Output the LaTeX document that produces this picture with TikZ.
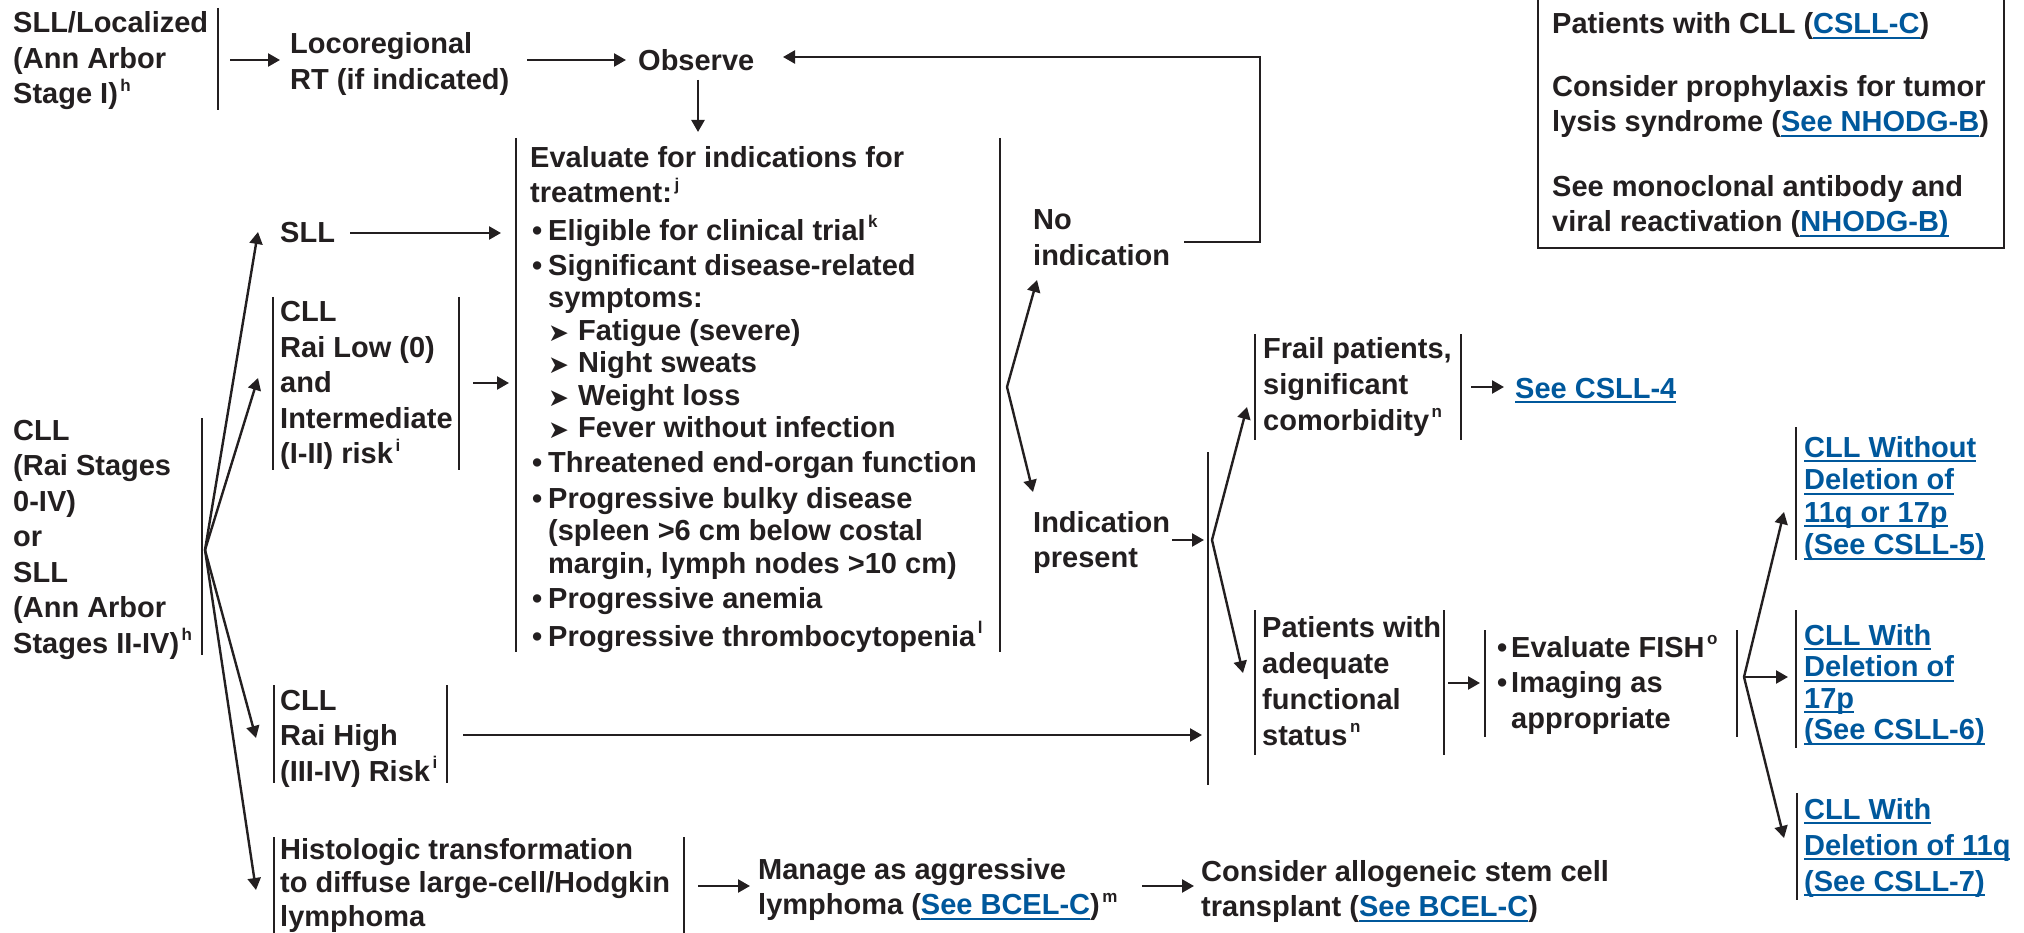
\documentclass[tikz,border=0pt]{standalone}
\usepackage{fontspec}
\setmainfont{Liberation Sans}
\newfontfamily\djv{DejaVu Sans}
\usetikzlibrary{arrows.meta}
\definecolor{ink}{RGB}{35,31,32}
\definecolor{linkblue}{RGB}{0,88,156}
\newcommand\sups[1]{\kern2.5pt\raisebox{12.5pt}{\fontsize{17}{17}\selectfont #1}}
\newcommand\lnk[1]{{\color{linkblue}\setbox0=\hbox{#1}\rlap{\vrule height -3.2pt depth 5pt width \wd0}\box0}}
\newcommand\bul{\makebox[18pt][l]{\kern2pt\textbullet}}
\newcommand\fbul{\makebox[14pt][l]{\textbullet}}
\newcommand\ind{\hspace*{18pt}}
\newcommand\subarr{\makebox[30pt][l]{\raisebox{-1pt}{\djv\fontsize{25}{25}\selectfont ➤}}}
\newcommand\tl[1]{\begin{tabular}[t]{@{}l@{}}#1\end{tabular}}
\tikzset{
  txt/.style={anchor=base west, inner sep=0pt, text=ink,
    font=\bfseries\fontsize{29}{35.5}\selectfont},
  tight/.style={font=\bfseries\fontsize{29}{32.4}\selectfont},
  bar/.style={draw=ink, line width=2.5pt},
  arr/.style={draw=ink, line width=2.4pt, -{Triangle[length=12pt,width=13pt]}},
}
\begin{document}
\begin{tikzpicture}[x=1pt,y=-1pt]
\useasboundingbox (0,0) rectangle (2024,933);

% ---------- top row ----------
\node[txt] (sllloc) at (13,33) {\tl{SLL/Localized\\(Ann Arbor\\Stage I)\sups{h}}};
\draw[bar] (218,8) -- (218,110);
\coordinate (a1s) at (230,60); \coordinate (a1e) at (280,60);
\draw[arr] (a1s) -- (a1e);
\node[txt] (loco) at (290,54) {\tl{Locoregional\\RT (if indicated)}};
\coordinate (a2s) at (527,60); \coordinate (a2e) at (626,60);
\draw[arr] (a2s) -- (a2e);
\node[txt] (obs) at (638,71) {Observe};
\coordinate (a3s) at (698,80); \coordinate (a3e) at (698,132);
\draw[arr] (a3s) -- (a3e);

% ---------- top-right box ----------
\draw[draw=ink, line width=2.2pt] (1538,-5) rectangle (2004,248);
\node[txt] (note) at (1552,34) {\tl{Patients with CLL (\lnk{CSLL-C})\\[27pt]
Consider prophylaxis for tumor\\lysis syndrome (\lnk{See NHODG-B})\\[29pt]
See monoclonal antibody and\\viral reactivation (\lnk{NHODG-B)}}};

% ---------- evaluate box ----------
\draw[bar] (516,138) -- (516,652);
\draw[bar] (1000,138) -- (1000,652);
\node[txt,tight] (eval) at (530,168) {\tl{Evaluate for indications for\\
treatment:\sups{j}\\[3pt]
\bul Eligible for clinical trial\sups{k}\\[3pt]
\bul Significant disease-related\\
\ind symptoms:\\
\ind\subarr Fatigue (severe)\\
\ind\subarr Night sweats\\
\ind\subarr Weight loss\\
\ind\subarr Fever without infection\\[3pt]
\bul Threatened end-organ function\\[3pt]
\bul Progressive bulky disease\\
\ind (spleen >6 cm below costal\\
\ind margin, lymph nodes >10 cm)\\[3pt]
\bul Progressive anemia\\[3pt]
\bul Progressive thrombocytopenia\sups{l}}};

% ---------- no indication / indication ----------
\node[txt] (noind) at (1033,230) {\tl{No\\indication}};
\node[txt] (indp) at (1033,532) {\tl{Indication\\present}};
\coordinate (ef) at (1007,387);
\coordinate (efu) at (1037,280); \coordinate (efd) at (1033,492);
\draw[arr] (ef) -- (efu);
\draw[arr] (ef) -- (efd);
\coordinate (r0) at (1184,242); \coordinate (rc) at (1260,57); \coordinate (rt) at (783,57);
\draw[arr] (r0) -| (rc) -- (rt);

% ---------- left column ----------
\node[txt] (stages) at (13,440) {\tl{CLL\\(Rai Stages\\0-IV)\\or\\SLL\\(Ann Arbor\\Stages II-IV)\sups{h}}};
\draw[bar] (202,418) -- (202,655);
\coordinate (lf) at (205,550);
\coordinate (t1) at (258,232); \coordinate (t2) at (258,378);
\coordinate (t3) at (256,738); \coordinate (t4) at (256,890);
\draw[arr] (lf) -- (t1);
\draw[arr] (lf) -- (t2);
\draw[arr] (lf) -- (t3);
\draw[arr] (lf) -- (t4);

\node[txt] (sll) at (280,243) {SLL};
\coordinate (a4s) at (350,233); \coordinate (a4e) at (501,233);
\draw[arr] (a4s) -- (a4e);

\node[txt] (rlow) at (280,322) {\tl{CLL\\Rai Low (0)\\and\\Intermediate\\(I-II) risk\sups{i}}};
\draw[bar] (273,297) -- (273,470);
\draw[bar] (459,297) -- (459,470);
\coordinate (a5s) at (473,383); \coordinate (a5e) at (509,383);
\draw[arr] (a5s) -- (a5e);

\node[txt] (rhigh) at (280,710) {\tl{CLL\\Rai High\\(III-IV) Risk\sups{i}}};
\draw[bar] (274,685) -- (274,783);
\draw[bar] (447,685) -- (447,783);
\coordinate (a6s) at (463,735); \coordinate (a6e) at (1202,735);
\draw[arr] (a6s) -- (a6e);

\node[txt,font=\bfseries\fontsize{29}{33.5}\selectfont] (histo) at (280,859) {\tl{Histologic transformation\\to diffuse large-cell/Hodgkin\\lymphoma}};
\draw[bar] (274,837) -- (274,945);
\draw[bar] (684,837) -- (684,945);
\coordinate (a7s) at (698,886); \coordinate (a7e) at (750,886);
\draw[arr] (a7s) -- (a7e);
\node[txt] (manage) at (758,879) {\tl{Manage as aggressive\\lymphoma (\lnk{See BCEL-C})\sups{m}}};
\coordinate (a8s) at (1142,886); \coordinate (a8e) at (1194,886);
\draw[arr] (a8s) -- (a8e);
\node[txt] (allo) at (1201,881) {\tl{Consider allogeneic stem cell\\transplant (\lnk{See BCEL-C})}};

% ---------- indication present branch ----------
\draw[bar] (1208,452) -- (1208,785);
\coordinate (a9s) at (1172,540); \coordinate (a9e) at (1204,540);
\draw[arr] (a9s) -- (a9e);
\coordinate (if) at (1212,540);
\coordinate (ifu) at (1247,407); \coordinate (ifd) at (1243,673);
\draw[arr] (if) -- (ifu);
\draw[arr] (if) -- (ifd);

\node[txt] (frail) at (1263,359) {\tl{Frail patients,\\significant\\comorbidity\sups{n}}};
\draw[bar] (1255,334) -- (1255,440);
\draw[bar] (1461,334) -- (1461,440);
\coordinate (a10s) at (1471,387); \coordinate (a10e) at (1504,387);
\draw[arr] (a10s) -- (a10e);
\node[txt] (csll4) at (1515,398) {\lnk{See CSLL-4}};

\node[txt,font=\bfseries\fontsize{29}{36}\selectfont] (adeq) at (1262,637) {\tl{Patients with\\adequate\\functional\\status\sups{n}}};
\draw[bar] (1255,610) -- (1255,755);
\draw[bar] (1444,610) -- (1444,755);
\coordinate (a11s) at (1448,683); \coordinate (a11e) at (1480,683);
\draw[arr] (a11s) -- (a11e);

\node[txt] (fish) at (1497,657) {\tl{\fbul Evaluate FISH\sups{o}\\\fbul Imaging as\\\hspace*{14pt}appropriate}};
\draw[bar] (1485,630) -- (1485,737);
\draw[bar] (1737,630) -- (1737,737);
\coordinate (ff) at (1744,677);
\coordinate (ffu) at (1784,512); \coordinate (ffm) at (1788,677); \coordinate (ffd) at (1784,838);
\draw[arr] (ff) -- (ffu);
\draw[arr] (ff) -- (ffm);
\draw[arr] (ff) -- (ffd);

\node[txt,font=\bfseries\fontsize{29}{32.5}\selectfont] (c5) at (1804,457) {\tl{\lnk{CLL Without}\\\lnk{Deletion of}\\\lnk{11q or 17p}\\\lnk{(See CSLL-5)}}};
\draw[bar] (1796,427) -- (1796,560);
\node[txt,font=\bfseries\fontsize{29}{31.5}\selectfont] (c6) at (1804,645) {\tl{\lnk{CLL With}\\\lnk{Deletion of}\\\lnk{17p}\\\lnk{(See CSLL-6)}}};
\draw[bar] (1796,610) -- (1796,748);
\node[txt,font=\bfseries\fontsize{29}{36}\selectfont] (c7) at (1804,819) {\tl{\lnk{CLL With}\\\lnk{Deletion of 11q}\\\lnk{(See CSLL-7)}}};
\draw[bar] (1797,793) -- (1797,900);
\end{tikzpicture}
\end{document}
